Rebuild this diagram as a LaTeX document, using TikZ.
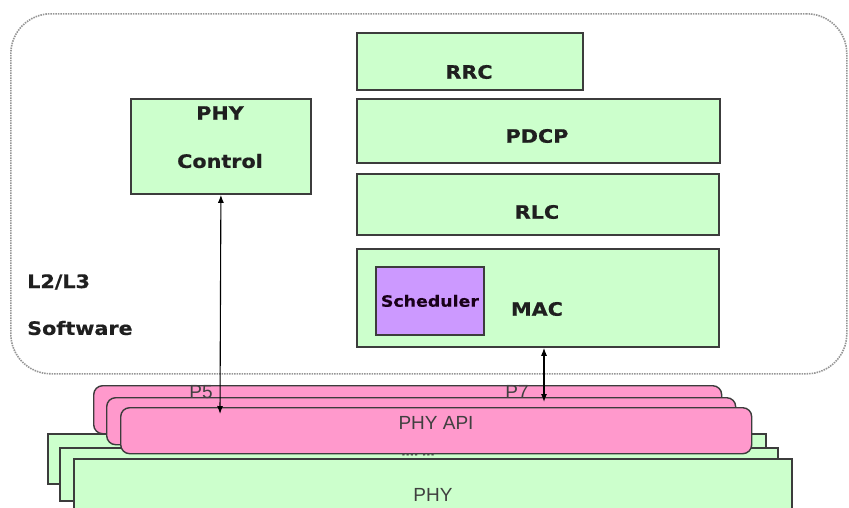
\documentclass[tikz,border=0pt]{standalone}
\usepackage{fontspec}
\setmainfont{DejaVu Sans}[FakeStretch=1.12, BoldFeatures={FakeBold=0.6}]
\newfontfamily\apifont{Liberation Sans}
\usetikzlibrary{arrows.meta}
\definecolor{layergreen}{HTML}{CCFFCC}
\definecolor{apipink}{HTML}{FF99CC}
\definecolor{schedpurple}{HTML}{CC99FF}
\definecolor{edgegray}{HTML}{3C3C3C}
\definecolor{frame}{HTML}{959595}
\begin{document}
\begin{tikzpicture}[x=1pt,y=-1pt,
  layer/.style={draw=edgegray, line width=1.8pt, fill=layergreen, inner sep=0pt, anchor=north west},
  apibox/.style={draw=edgegray, line width=1.4pt, fill=apipink, rounded corners=9pt, inner sep=0pt, anchor=north west},
  boldlab/.style={font=\bfseries\fontsize{18.5}{20}\selectfont, text=black!88, inner sep=0pt},
  plainlab/.style={font=\apifont\fontsize{19}{21}\selectfont, text=black!75, inner sep=0pt},
  port/.style={line width=1.1pt, {Latex[length=8pt,width=6pt]}-{Latex[length=8pt,width=6pt]}}
]
\useasboundingbox (0,0) rectangle (849,507);

% L2/L3 software frame
\node[draw=frame, line width=1.6pt, dash pattern=on 1.5pt off 1pt, rounded corners=40pt,
      minimum width=836pt, minimum height=360pt, anchor=north west, inner sep=0pt] (sw) at (10,13) {};
\node[boldlab, anchor=west] (swl1) at (27,282) {L2/L3};
\node[boldlab, anchor=west] (swl2) at (27,328) {Software};

% protocol stack
\node[layer, minimum width=226pt, minimum height=57pt] (rrc) at (356,32) {};
\node[boldlab] (rrct) at (469,72) {RRC};
\node[layer, minimum width=363pt, minimum height=64pt] (pdcp) at (356,98) {};
\node[boldlab] (pdcpt) at (537,136) {PDCP};
\node[layer, minimum width=362pt, minimum height=61pt] (rlc) at (356,173) {};
\node[boldlab] (rlct) at (537,212) {RLC};
\node[layer, minimum width=362pt, minimum height=98pt] (mac) at (356,248) {};
\node[boldlab] (mact) at (537,309) {MAC};
\node[layer, fill=schedpurple, minimum width=108pt, minimum height=68pt] (sched) at (375,266) {};
\node[boldlab, font=\bfseries\fontsize{15.5}{18}\selectfont, text=black!80!violet] (schedt) at (sched.center) {Scheduler};

% PHY control
\node[layer, minimum width=180pt, minimum height=95pt] (phyctl) at (130,98) {};
\node[boldlab] (phyctl1) at (220,113) {PHY};
\node[boldlab] (phyctl2) at (220,161) {Control};

% PHY instances
\node[layer, line width=1.6pt, minimum width=718pt, minimum height=50pt] (phy3) at (47,433) {};
\node[layer, line width=1.6pt, minimum width=718pt, minimum height=53pt] (phy2) at (59,447) {};
\node[layer, line width=1.6pt, minimum width=718pt, minimum height=80pt] (phy1) at (73,458) {};
\node[plainlab] (phyt) at (433,495) {PHY};

% PHY API instances
\node[apibox, minimum width=628pt, minimum height=48pt] (api3) at (93,385) {};
\node[apibox, minimum width=629pt, minimum height=47pt] (api2) at (106,397) {};
\node[apibox, minimum width=631pt, minimum height=46pt] (api1) at (120,407) {};
\node[plainlab] (apit) at (436,423) {PHY API};
\node[plainlab] (p5) at (201,392) {P5};
\node[plainlab] (p7) at (517,392) {P7};
\node[font=\bfseries\fontsize{10}{10}\selectfont, text=black!70, inner sep=0pt] (more) at (418,454.5) {....~...};

% interfaces
\coordinate (p5end) at (220,414);
\coordinate (p7end) at (544,402);
\draw[port] (phyctl.south) -- (p5end);
\draw[port] (mac.south -| p7end) -- (p7end);
\end{tikzpicture}
\end{document}
